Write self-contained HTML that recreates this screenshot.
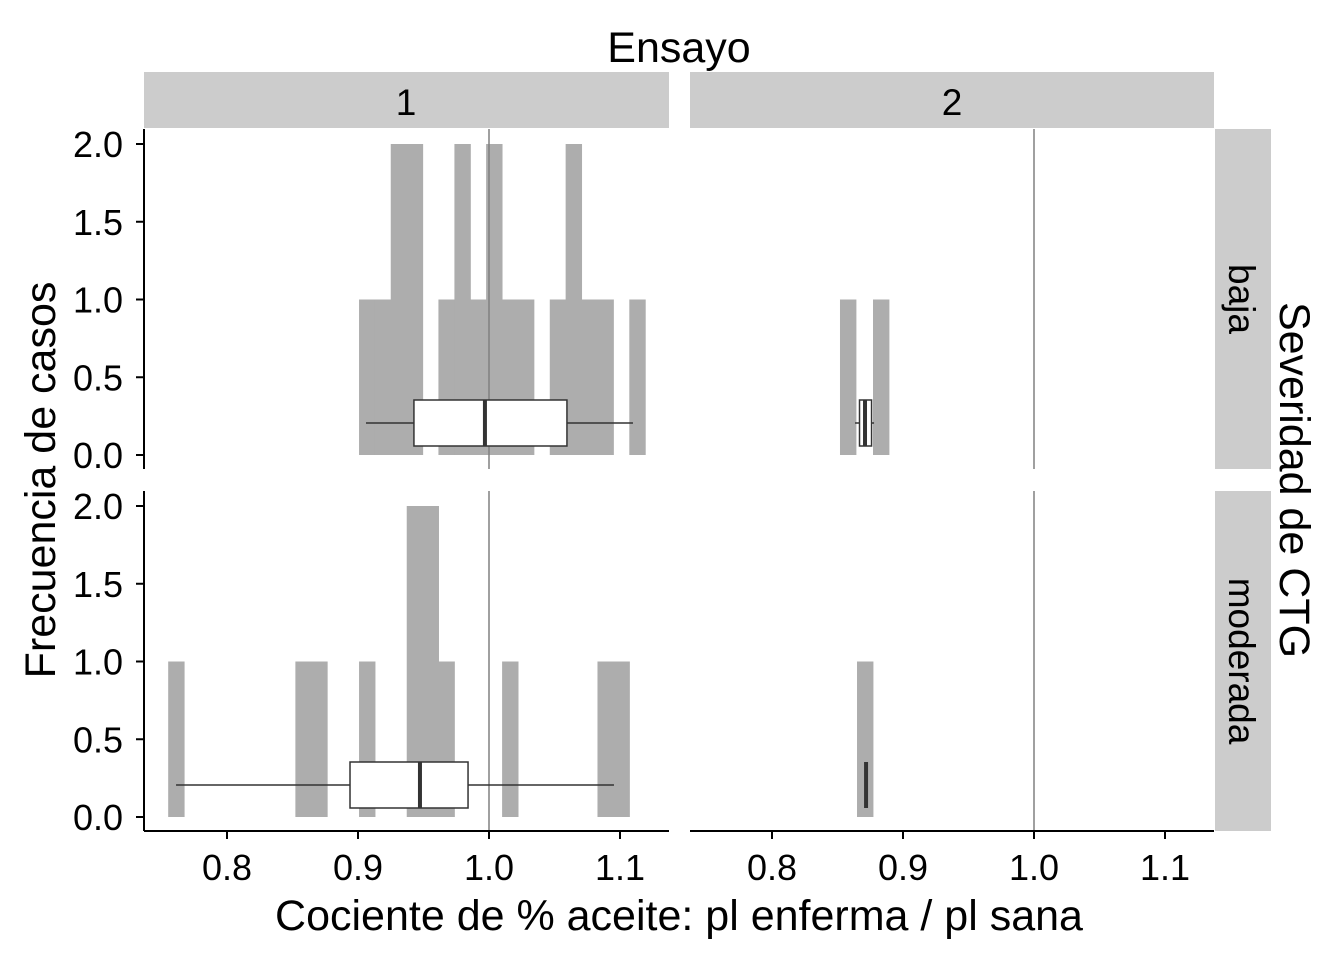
<!DOCTYPE html>
<html><head><meta charset="utf-8"><style>
body{margin:0;background:#fff}
svg text{font-family:"Liberation Sans",sans-serif;fill:#000}
</style></head><body>
<svg id="chart" width="1344" height="960" viewBox="0 0 1344 960" xmlns="http://www.w3.org/2000/svg">
<g id="g"></g>
</svg>
<script>
// Data
const xTicks=[0.8,0.9,1.0,1.1];
const xTickLabels=["0.8","0.9","1.0","1.1"];
const yTicks=[0,0.5,1,1.5,2];
const yTickLabels=["0.0","0.5","1.0","1.5","2.0"];
const binWidth=0.01214;
// panel 1 baja
const p1bStarts=[0.9008,0.9129,0.9250,0.9372,0.9493,0.9614,0.9736,0.9857,0.9978,1.0100,1.0221,1.0343,1.0464,1.0585,1.0707,1.0828,1.0950,1.1071];
const p1bCounts=[1,1,2,2,0,1,2,1,2,1,1,0,1,2,1,1,0,1];
// panel 1 moderada
const p1mStarts=[0.7551,0.8522,0.8643,0.9008,0.9372,0.9493,0.9614,1.0100,1.0828,1.0950];
const p1mCounts=[1,1,1,1,2,2,1,1,1,1];
// panel 2
const p2bStarts=[0.8519,0.8771];
const p2bCounts=[1,1];
const p2mStarts=[0.8649];
const p2mCounts=[1];
// boxplots [lo,q1,med,q3,hi]
const box1b=[0.9061,0.9427,0.9969,1.0595,1.1099];
const box1m=[0.7611,0.8939,0.9473,0.9840,1.0954];
const box2b=[0.8634,0.8668,0.8710,0.8760,0.8779];
const box2m=[0.8718,0.8718,0.8718,0.8718,0.8718];

const NS="http://www.w3.org/2000/svg";
const G=document.getElementById('g');
function el(t,a,p){const e=document.createElementNS(NS,t);for(const k in a)e.setAttribute(k,a[k]);(p||G).appendChild(e);return e;}
const panels=[
 {x0:144,x1:669,y0:129,y1:469,xo:227,starts:p1bStarts,counts:p1bCounts,box:box1b,name:'panel-1-baja'},
 {x0:690,x1:1214,y0:129,y1:469,xo:772,starts:p2bStarts,counts:p2bCounts,box:box2b,name:'panel-2-baja'},
 {x0:144,x1:669,y0:491,y1:831,xo:227,starts:p1mStarts,counts:p1mCounts,box:box1m,name:'panel-1-moderada'},
 {x0:690,x1:1214,y0:491,y1:831,xo:772,starts:p2mStarts,counts:p2mCounts,box:box2m,name:'panel-2-moderada'}
];
const PXU=1310;
panels.forEach((p,i)=>{
 const sx=v=>p.xo+(v-0.8)*PXU;
 const zero=p.y1-14, sy=v=>zero-v*155.5;
 const g=el('g',{});
 
 
 p.starts.forEach((s,j)=>{if(!p.counts[j])return;
  const r=el('rect',{x:sx(s),y:sy(p.counts[j]),width:binWidth*PXU+0.5,height:p.counts[j]*155.5,fill:'#ADADAD'},g);
  
  
 });
 const ref=el('line',{x1:sx(1),x2:sx(1),y1:p.y0,y2:p.y1,stroke:'#808080','stroke-width':1.5},g);
 
 
 const b=p.box, bt=zero-55, bb=zero-9, wy=zero-32;
 const bx=el('g',{},g);
 
 
 el('line',{x1:sx(b[0]),x2:sx(b[1]),y1:wy,y2:wy,stroke:'#333','stroke-width':1.5},bx);
 el('line',{x1:sx(b[3]),x2:sx(b[4]),y1:wy,y2:wy,stroke:'#333','stroke-width':1.5},bx);
 el('rect',{x:sx(b[1]),y:bt,width:Math.max(sx(b[3])-sx(b[1]),0),height:bb-bt,fill:'#fff',stroke:'#333','stroke-width':1.5},bx);
 el('line',{x1:sx(b[2]),x2:sx(b[2]),y1:bt,y2:bb,stroke:'#333','stroke-width':4},bx);
 if(p.x0===144){
  el('line',{x1:144,x2:144,y1:p.y0,y2:p.y1,stroke:'#000','stroke-width':2});
  yTicks.forEach((t,j)=>{el('line',{x1:136,x2:144,y1:sy(t),y2:sy(t),stroke:'#000','stroke-width':2});
   const tx=el('text',{x:123,y:sy(t)+13,'text-anchor':'end','font-size':36});tx.textContent=yTickLabels[j];
   
   });
 }
 if(p.y1===831){
  el('line',{x1:p.x0,x2:p.x1,y1:831,y2:831,stroke:'#000','stroke-width':2});
  xTicks.forEach((t,j)=>{el('line',{x1:sx(t),x2:sx(t),y1:831,y2:839,stroke:'#000','stroke-width':2});
   const tx=el('text',{x:sx(t),y:880,'text-anchor':'middle','font-size':36});tx.textContent=xTickLabels[j];
   
   });
 }
});
</script>
<svg style="position:absolute;left:0;top:0" width="1344" height="960">
<rect x="144" y="72" width="525" height="56" fill="#CCCCCC"/>
<rect x="690" y="72" width="524" height="56" fill="#CCCCCC"/>
<text x="406" y="115" text-anchor="middle" font-size="37">1</text>
<text x="952" y="115" text-anchor="middle" font-size="37">2</text>
<rect x="1215" y="129" width="56" height="340" fill="#CCCCCC"/>
<rect x="1215" y="491" width="56" height="340" fill="#CCCCCC"/>
<text transform="translate(1229,299) rotate(90)" text-anchor="middle" font-size="37">baja</text>
<text transform="translate(1229,661) rotate(90)" text-anchor="middle" font-size="37">moderada</text>
<text x="679" y="62" text-anchor="middle" font-size="43">Ensayo</text>
<text transform="translate(1280,480) rotate(90)" text-anchor="middle" font-size="43">Severidad de CTG</text>
<text transform="translate(55,480) rotate(-90)" text-anchor="middle" font-size="43">Frecuencia de casos</text>
<text x="679" y="930" text-anchor="middle" font-size="43">Cociente de % aceite: pl enferma / pl sana</text>
</svg>
</body></html>
